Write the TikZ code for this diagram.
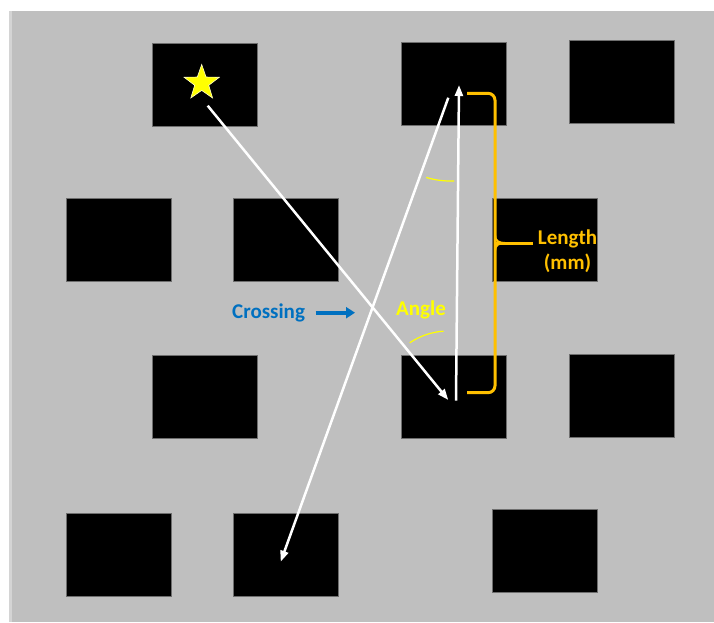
\documentclass[tikz,border=0pt]{standalone}
\usepackage{fontspec}
\setmainfont{Carlito}
\usetikzlibrary{shapes.geometric,arrows.meta}
\definecolor{bg}{HTML}{BFBFBF}
\definecolor{edgestrip}{HTML}{D4D4D4}
\definecolor{gold}{HTML}{FFC000}
\definecolor{ylw}{HTML}{FFFF00}
\definecolor{blu}{HTML}{0070C0}
\definecolor{boxline}{HTML}{6E6E6E}
\definecolor{starline}{HTML}{FFFFC8}
\begin{document}
\begin{tikzpicture}[x=1pt,y=-1pt,
  cell/.style={draw=boxline, line width=0.8pt, fill=black, minimum width=105pt, minimum height=83pt, inner sep=0pt},
  ptr/.style={draw=white, line width=2.5pt, -{Triangle[length=11pt,width=8pt]}},
  lbl/.style={font=\fontsize{21}{25}\selectfont\bfseries, inner sep=0pt},
  arcl/.style={draw=ylw, line width=1.2pt},
  bracket/.style={draw=gold, line width=3pt}]
\fill[white] (0,0) rectangle (714,622);
\useasboundingbox (0,0) rectangle (714,622);
\fill[bg] (9,11) rectangle (714,622);
\fill[edgestrip] (9,11) rectangle (12,622);
% boxes
\node[cell] (A) at (205.1,84.6) {};
\node[cell] (B) at (454,83.6) {};
\node[cell] (C) at (622,81.8) {};
\node[cell] (D) at (118.4,239.6) {};
\node[cell] (E) at (286,239.5) {};
\node[cell] (F) at (544.8,239.6) {};
\node[cell] (G) at (205.1,397) {};
\node[cell] (H) at (454,397.3) {};
\node[cell] (I) at (622.1,395.5) {};
\node[cell] (J) at (118.4,555) {};
\node[cell] (L) at (286,555.2) {};
\node[cell] (K) at (544.8,550.8) {};
% star
\node[star, star points=5, star point ratio=2.5, minimum size=37pt, inner sep=0pt, fill=ylw, draw=starline, line width=0.6pt] (star) at (201.7,83) {};
% arrow end points
\coordinate (p0) at (207.7,105.7);
\coordinate (p1) at (448.3,400);
\coordinate (v0) at (456,400.7);
\coordinate (v1) at (459,85);
\coordinate (c0) at (448.3,97.7);
\coordinate (c1) at (280.7,561.7);
\draw[ptr] (p0) -- (p1);
\draw[ptr] (v0) -- (v1);
\draw[ptr] (c0) -- (c1);
% angle arcs
\draw[arcl] (p1) ++(236:69) arc[start angle=236, end angle=266, radius=69];
\draw[arcl] (450,100) ++(107:81) arc[start angle=107, end angle=87, radius=81];
% bracket
\coordinate (bt) at (467,93.3);
\coordinate (bb) at (467,392.7);
\coordinate (bm) at (495,243);
\coordinate (btip) at (533,243);
\draw[bracket, rounded corners=7pt] (bt) -- (495,93.3) -- (495,392.7) -- (bb);
\draw[bracket] (bm) -- (btip);
\draw[draw=gold, line width=2pt] (495,235) .. controls (495,241) and (499,243) .. (505,243);
\draw[draw=gold, line width=2pt] (495,251) .. controls (495,245) and (499,243) .. (505,243);
% labels
\node[lbl, text=blu, anchor=base west] (cross) at (232,318) {Crossing};
\coordinate (b0) at (315.7,312.7);
\coordinate (b1) at (355,312.7);
\draw[draw=blu, line width=4pt, -{Triangle[length=9pt,width=11pt]}] (b0) -- (b1);
\node[lbl, text=ylw, anchor=base west] (angle) at (396,315) {Angle};
\node[lbl, text=gold, anchor=base] (len1) at (567.5,244) {Length};
\node[lbl, text=gold, anchor=base] (len2) at (567.5,269) {(mm)};
\end{tikzpicture}
\end{document}
